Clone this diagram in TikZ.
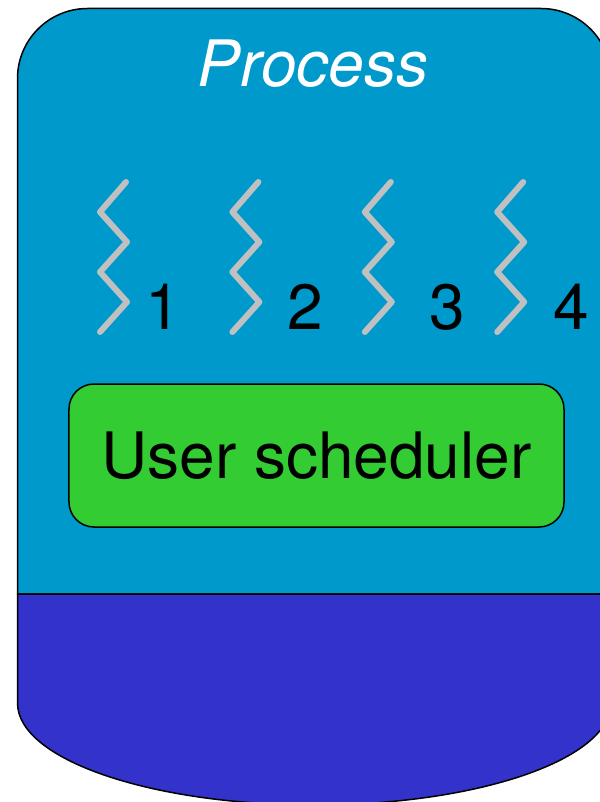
\documentclass[tikz,border=0pt]{standalone}
\usepackage{fontspec}
\setmainfont{TeX Gyre Heros}
\definecolor{proc}{HTML}{0099CC}
\definecolor{kern}{HTML}{3333CC}
\definecolor{sched}{HTML}{33CC33}
\definecolor{zig}{HTML}{C0C0C0}
\tikzset{
  outline/.style={draw=black,line width=1.5bp},
  zigline/.style={draw=zig,line width=6bp,line cap=round,line join=round},
  numlabel/.style={font=\fontsize{64.24}{64.24}\selectfont,text=black,anchor=base,inner sep=0pt},
}
\begin{document}
\begin{tikzpicture}[x=1bp,y=-1bp]
\useasboundingbox (0,0) rectangle (600,802);
\clip (0,0) rectangle (600,802);
% process body
\path[outline,fill=proc] (17.5,594) -- (17.5,78.5) arc[start angle=180,end angle=270,radius=70]
  -- (541,8.5) arc[start angle=270,end angle=360,radius=70] -- (611,594) -- cycle;
% lower part
\path[outline,fill=kern] (17.5,594) -- (17.5,703)
  arc[start angle=180,end angle=90,x radius=296.75,y radius=102]
  arc[start angle=90,end angle=0,x radius=296.75,y radius=102]
  -- (611,594) -- cycle;
\node[font=\fontsize{64.24}{64.24}\selectfont\itshape,text=white,anchor=base,inner sep=0pt] (title) at (313,86.5) {Process};
% threads
\foreach \n/\dx in {a/0,b/132.4,c/264.8,d/397.2}{
  \draw[zigline] (126+\dx,182) -- (100+\dx,212) -- (127+\dx,242) -- (100+\dx,272) -- (127+\dx,302) -- (100+\dx,332);
}
\node[numlabel] (n1) at (163.5,329) {1};
\node[numlabel] (n2) at (305.5,329) {2};
\node[numlabel] (n3) at (447.5,329) {3};
\node[numlabel] (n4) at (571,329) {4};
% scheduler
\node[draw=black,line width=1.5bp,fill=sched,rounded corners=25bp,minimum width=495bp,minimum height=143bp,inner sep=0pt] (us) at (316.5,455.5) {};
\node[font=\fontsize{64.24}{64.24}\selectfont,text=black,anchor=base,inner sep=0pt] (ustext) at (316.5,478) {User scheduler};
\end{tikzpicture}
\end{document}
